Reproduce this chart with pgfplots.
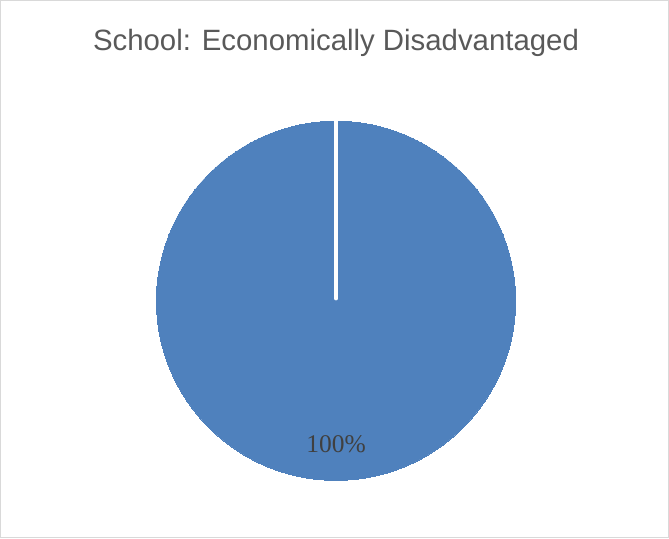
\documentclass[border=0pt]{standalone}
\usepackage{pgfplots}
\pgfplotsset{compat=1.18}
\usepackage{fontspec}
\setmainfont{Liberation Sans}
\newfontfamily\seriffont{Liberation Serif}
\definecolor{pieblue}{HTML}{4F81BD}
\definecolor{titlegray}{HTML}{595959}
\definecolor{labelgray}{HTML}{404040}
\definecolor{framegray}{HTML}{D9D9D9}
\pgfplotsset{canvas/.style={
  scale only axis,
  width=501.75pt, height=402.75pt,
  xmin=0, xmax=669, ymin=0, ymax=537,
  y dir=reverse,
  hide axis,
  clip=false,
  at={(0,0)}, anchor=south west,
}}
\begin{document}
\begin{tikzpicture}
\begin{axis}[canvas]
% pie: one slice, 100%
\addplot[color=pieblue, only marks, mark=*, mark size=133.9pt, mark options={fill=pieblue, draw=pieblue, line width=0pt}] coordinates {(336,300)};
\end{axis}
\begin{axis}[canvas]
% slice boundary at 12 o'clock
\addplot[white, line width=2.4pt, line cap=round, no marks] coordinates {(336,120) (336,298)};
\draw[framegray, line width=0.9pt] (axis cs:2.5,1.5) rectangle (axis cs:666.5,535.5);
\node[font=\fontsize{21.9pt}{24pt}\selectfont, text=titlegray] at (axis cs:336,44) {School: Economically Disadvantaged};
\node[font=\seriffont\fontsize{19pt}{22pt}\selectfont, text=labelgray] at (axis cs:336,443) {100\%};
\end{axis}
\end{tikzpicture}
\end{document}
